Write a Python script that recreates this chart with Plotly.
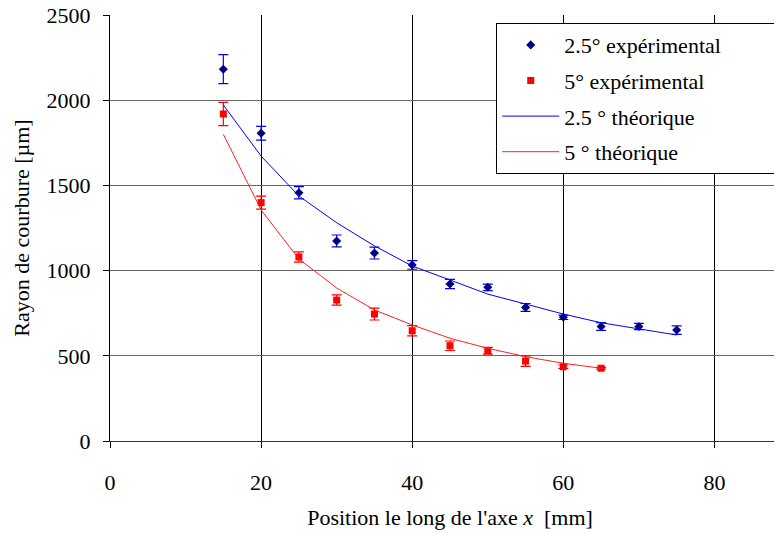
import plotly.graph_objects as go

# 2.5 deg experimental
x_exp25 = [15, 20, 25, 30, 35, 40, 45, 50, 55, 60, 65, 70, 75]
y_exp25 = [2182, 1806, 1457, 1174, 1103, 1033, 921, 902, 784, 726, 672, 672, 651]
err_exp25 = [85, 40, 36, 35, 35, 25, 27, 19, 23, 13, 23, 18, 25]

# 5 deg experimental
x_exp5 = [15, 20, 25, 30, 35, 40, 45, 50, 55, 60, 65]
y_exp5 = [1919, 1399, 1080, 827, 745, 647, 559, 530, 469, 436, 427]
err_exp5 = [68, 38, 30, 30, 35, 30, 28, 20, 31, 10, 5]

# theoretical curves
x_th25 = [15, 20, 25, 30, 35, 40, 45, 50, 55, 60, 65, 70, 75]
y_th25 = [1972, 1672, 1438, 1281, 1145, 1027, 945, 862, 804, 745, 694, 659, 622]
x_th5 = [15, 20, 25, 30, 35, 40, 45, 50, 55, 60, 65]
y_th5 = [1800, 1356, 1068, 898, 769, 681, 603, 544, 495, 456, 427]

FONT = "Liberation Serif"
PAD = "\u00a0" * 10  # widen legend box a bit, like the original

fig = go.Figure()
fig.add_trace(go.Scatter(
    x=x_exp25, y=y_exp25, mode="markers", name="2.5° expérimental" + PAD, legendgroup="a",
    marker=dict(symbol="diamond", size=7, color="#000080"),
    error_y=dict(type="data", array=err_exp25, color="#0000FF", thickness=1.2, width=5),
))
fig.add_trace(go.Scatter(
    x=x_exp5, y=y_exp5, mode="markers", name="5° expérimental", legendgroup="b",
    marker=dict(symbol="square", size=7, color="#FF0000"),
    error_y=dict(type="data", array=err_exp5, color="#FF0000", thickness=1.2, width=5),
))
fig.add_trace(go.Scatter(
    x=x_th25, y=y_th25, mode="lines", name="2.5 ° théorique", legendgroup="c",
    line=dict(color="#0000FF", width=1),
))
fig.add_trace(go.Scatter(
    x=x_th5, y=y_th5, mode="lines", name="5 ° théorique", legendgroup="d",
    line=dict(color="#FF2020", width=1),
))

fig.update_layout(
    width=782, height=533,
    margin=dict(l=102, r=0, t=7, b=100),
    paper_bgcolor="white", plot_bgcolor="white",
    font=dict(family=FONT, size=22, color="black"),
    legend=dict(
        x=0.568, y=0.981, xanchor="left", yanchor="top",
        bgcolor="white", bordercolor="black", borderwidth=1,
        font=dict(family=FONT, size=22), tracegroupgap=4, itemwidth=57,
    ),
    xaxis=dict(
        range=[0, 90], tickvals=[0, 20, 40, 60, 80],
        showgrid=True, gridcolor="black", gridwidth=1,
        showline=True, linecolor="#333", linewidth=1,
        ticks="outside", ticklen=6, tickcolor="black",
        ticklabelstandoff=16, zeroline=False, automargin=False,
        title=dict(text="Position le long de l'axe <i>x</i>  [mm]", font=dict(size=22), standoff=15),
    ),
    yaxis=dict(
        range=[0, 2500], tickvals=[0, 500, 1000, 1500, 2000, 2500],
        showgrid=True, gridcolor="#666", gridwidth=1,
        showline=True, linecolor="black", linewidth=1,
        ticks="outside", ticklen=6, tickcolor="black",
        ticklabelstandoff=8, zeroline=False, ticklabeloverflow="allow",
        automargin=False,
        title=dict(text="Rayon de courbure [µm]", font=dict(size=22), standoff=10),
    ),
)

fig.write_html("out.html")
